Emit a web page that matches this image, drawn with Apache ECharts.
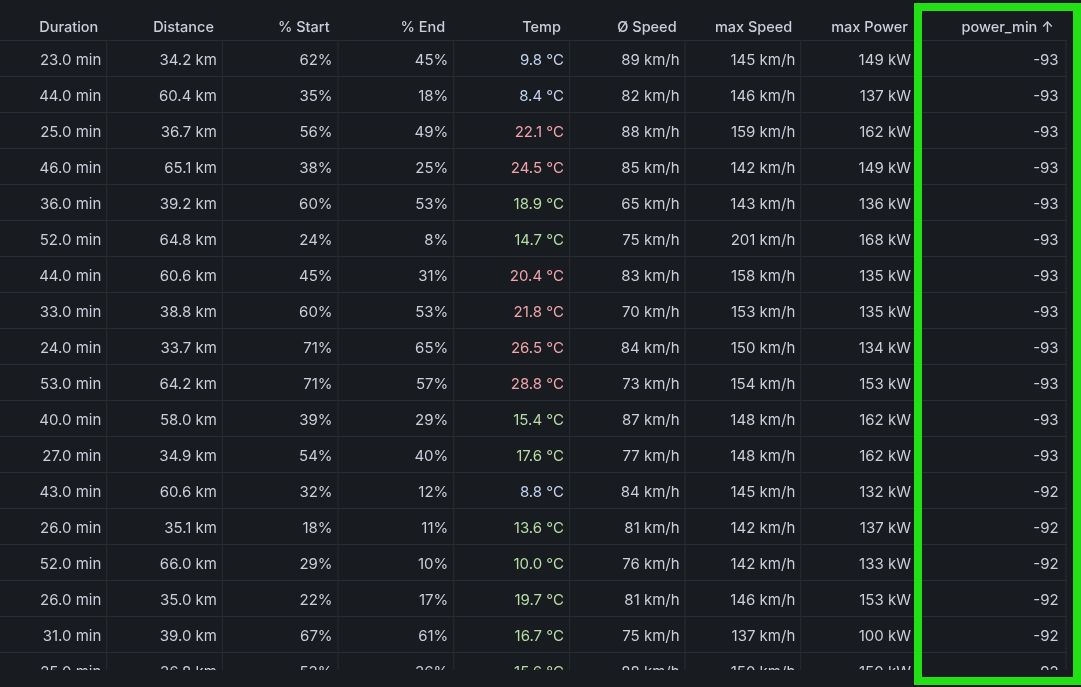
<!DOCTYPE html>
<html>
<head>
<meta charset="utf-8">
<script src="https://cdn.jsdelivr.net/npm/echarts@6/dist/echarts.min.js"></script>
<style>
  html, body { margin: 0; padding: 0; background: #181b1f; }
  #main { width: 1081px; height: 687px; }
</style>
</head>
<body>
<div id="main"></div>
<script>
// table data, one array per column
const columns = ['Duration', 'Distance', '% Start', '% End', 'Temp', 'Ø Speed', 'max Speed', 'max Power', 'power_min ↑'];
const duration = [23.0, 44.0, 25.0, 46.0, 36.0, 52.0, 44.0, 33.0, 24.0, 53.0, 40.0, 27.0, 43.0, 26.0, 52.0, 26.0, 31.0, 25.0];
const distance = [34.2, 60.4, 36.7, 65.1, 39.2, 64.8, 60.6, 38.8, 33.7, 64.2, 58.0, 34.9, 60.6, 35.1, 66.0, 35.0, 39.0, 36.8];
const socStart = [62, 35, 56, 38, 60, 24, 45, 60, 71, 71, 39, 54, 32, 18, 29, 22, 67, 53];
const socEnd = [45, 18, 49, 25, 53, 8, 31, 53, 65, 57, 29, 40, 12, 11, 10, 17, 61, 36];
const temp = [9.8, 8.4, 22.1, 24.5, 18.9, 14.7, 20.4, 21.8, 26.5, 28.8, 15.4, 17.6, 8.8, 13.6, 10.0, 19.7, 16.7, 15.6];
const avgSpeed = [89, 82, 88, 85, 65, 75, 83, 70, 84, 73, 87, 77, 84, 81, 76, 81, 75, 88];
const maxSpeed = [145, 146, 159, 142, 143, 201, 158, 153, 150, 154, 148, 148, 145, 142, 142, 146, 137, 150];
const maxPower = [149, 137, 162, 149, 136, 168, 135, 135, 134, 153, 162, 162, 132, 137, 133, 153, 100, 150];
const powerMin = [-93, -93, -93, -93, -93, -93, -93, -93, -93, -93, -93, -93, -92, -92, -92, -92, -92, -92];

const rows = duration.map((d, i) => String(i + 1));

const BG = '#181b1f';
const TEXT = '#ccccdc';
const LINE = '#2a2d33';
const FONT = '"Inter", "Noto Sans", sans-serif';

function cellText(c, r) {
  switch (c) {
    case 0: return duration[r].toFixed(1) + ' min';
    case 1: return distance[r].toFixed(1) + ' km';
    case 2: return socStart[r] + '%';
    case 3: return socEnd[r] + '%';
    case 4: return temp[r].toFixed(1) + ' °C';
    case 5: return avgSpeed[r] + ' km/h';
    case 6: return maxSpeed[r] + ' km/h';
    case 7: return maxPower[r] + ' kW';
    default: return String(powerMin[r]);
  }
}

function cellColor(c, r) {
  if (c !== 4) return TEXT;
  if (temp[r] < 10) return '#c3d2f2';
  if (temp[r] < 20) return '#b6dda6';
  return '#f0a4ab';
}

// last column is wider than the others
const LAST_EXTRA = 34;

function colRight(api, c, r) {
  const p = api.coord([c, r]);
  const s = api.size([1, 1]);
  return p[0] + s[0] / 2 + (c === columns.length - 1 ? LAST_EXTRA : 0);
}

const cells = [];
rows.forEach((_, r) => columns.forEach((_, c) => cells.push([c, r])));

const chart = echarts.init(document.getElementById('main'));
chart.setOption({
  backgroundColor: BG,
  animation: false,
  grid: { left: -8.4, top: 41, width: 1041, height: 648, outerBoundsMode: 'none', containLabel: false },
  xAxis: { type: 'category', data: columns, show: false },
  yAxis: { type: 'category', data: rows, inverse: true, show: false },
  series: [
    {
      type: 'custom',
      data: cells,
      clip: false,
      renderItem: function (params, api) {
        const c = api.value(0), r = api.value(1);
        const p = api.coord([c, r]);
        const s = api.size([1, 1]);
        const right = colRight(api, c, r);
        const left = c === 0 ? 0 : p[0] - s[0] / 2;
        const top = p[1] - s[1] / 2, bottom = p[1] + s[1] / 2;
        const children = [
          {
            type: 'line',
            shape: { x1: left, y1: bottom - 0.5, x2: right, y2: bottom - 0.5 },
            style: { stroke: LINE, lineWidth: 1 }
          },
          {
            type: 'line',
            shape: { x1: right - 0.5, y1: top, x2: right - 0.5, y2: bottom },
            style: { stroke: LINE, lineWidth: 1 }
          },
          {
            type: 'text',
            style: {
              text: cellText(c, r),
              x: right - (c === columns.length - 1 ? 8 : 6),
              y: p[1] + 1,
              textAlign: 'right',
              textVerticalAlign: 'middle',
              fill: cellColor(c, r),
              font: '400 15px ' + FONT
            }
          }
        ];
        if (r === 0) {
          children.push({
            type: 'line',
            shape: { x1: left, y1: top - 0.5, x2: right, y2: top - 0.5 },
            style: { stroke: LINE, lineWidth: 1 }
          });
        }
        return { type: 'group', children: children };
      }
    },
    {
      type: 'custom',
      data: columns.map((_, c) => [c, 0]),
      clip: false,
      renderItem: function (params, api) {
        const c = api.value(0);
        const p = api.coord([c, 0]);
        const s = api.size([1, 1]);
        const right = colRight(api, c, 0);
        return {
          type: 'text',
          style: {
            text: columns[c],
            x: right - (c === columns.length - 1 ? 13 : 9),
            y: p[1] - s[1] / 2 - 13,
            textAlign: 'right',
            textVerticalAlign: 'middle',
            fill: TEXT,
            font: '500 14.5px ' + FONT
          }
        };
      }
    }
  ],
  graphic: [
    {
      type: 'rect',
      z: 100,
      shape: { x: 0, y: 670, width: 1081, height: 17 },
      style: { fill: BG }
    },
    {
      type: 'rect',
      z: 101,
      shape: { x: 918, y: 7, width: 159, height: 674 },
      style: { fill: 'none', stroke: '#22df16', lineWidth: 8 }
    }
  ]
});
</script>
</body>
</html>
